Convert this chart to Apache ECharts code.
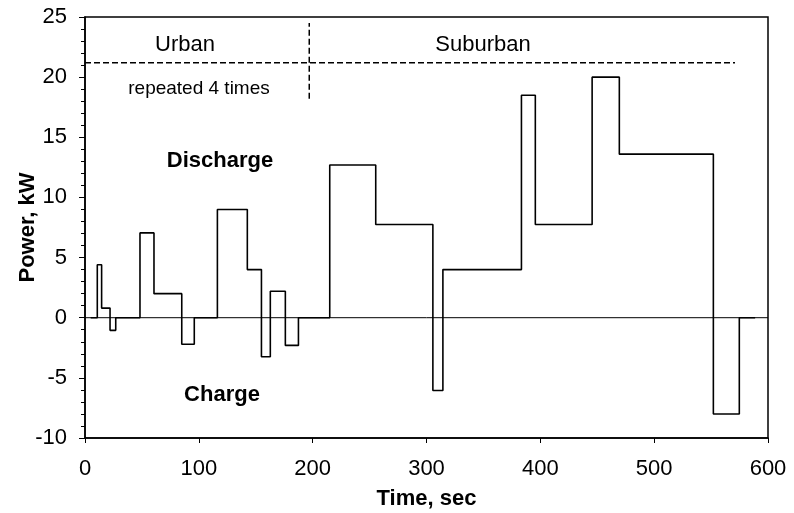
<!DOCTYPE html>
<html>
<head>
<meta charset="utf-8">
<script src="https://cdn.jsdelivr.net/npm/echarts@6/dist/echarts.min.js"></script>
<style>
html,body{margin:0;padding:0;background:#fff;}
#chart{width:794px;height:513px;}
</style>
</head>
<body>
<div id="chart"></div>
<script>
// Step profile: power holds from each time until the next one
var timeSec = [5, 10.8, 14.6, 22, 27, 48.3, 60.6, 85, 96, 116.3, 142.6, 155, 162.8, 176, 187.5, 215, 255.4, 305.6, 314.4, 383.4, 395.6, 445.5, 469.4, 552, 574.8, 588.7];
var powerKW = [0, 4.4, 0.8, -1.05, 0, 7.05, 2.0, -2.2, 0, 9.0, 4.0, -3.25, 2.2, -2.3, 0, 12.7, 7.75, -6.05, 4.0, 18.5, 7.75, 20.0, 13.6, -8.0, 0, 0];

// Annotation lines
var phaseLineY = 21.2;
var phaseLineX = [0, 571];
var dividerX = 197;
var dividerY = [18.2, 24.5];

var xTicks = [0, 100, 200, 300, 400, 500, 600];
var yTicks = [-10, -5, 0, 5, 10, 15, 20, 25];

var profile = timeSec.map(function (t, i) { return [t, powerKW[i]]; });

var FONT = 'Liberation Sans, Arial, sans-serif';
var chart = echarts.init(document.getElementById('chart'), null, {renderer: 'canvas'});

chart.setOption({
  animation: false,
  backgroundColor: '#fff',
  grid: {left: 85, right: 26, top: 17, bottom: 75, containLabel: false, outerBoundsMode: 'none',
         show: true, borderColor: '#000', borderWidth: 1.5, backgroundColor: 'transparent'},
  xAxis: {
    type: 'value', min: xTicks[0], max: xTicks[xTicks.length - 1], interval: 100,
    name: 'Time, sec', nameLocation: 'middle', nameGap: 50,
    nameTextStyle: {fontFamily: FONT, fontSize: 22, fontWeight: 'bold', color: '#000'},
    axisLine: {onZero: false, lineStyle: {color: '#000', width: 1.5}},
    axisTick: {show: true, inside: false, length: 5, lineStyle: {color: '#000'}},
    axisLabel: {fontFamily: FONT, fontSize: 22, color: '#000', margin: 20},
    splitLine: {show: false}
  },
  yAxis: {
    type: 'value', min: yTicks[0], max: yTicks[yTicks.length - 1], interval: 5,
    name: 'Power, kW', nameLocation: 'middle', nameGap: 46, nameRotate: 90, nameMoveOverlap: false,
    nameTextStyle: {fontFamily: FONT, fontSize: 22, fontWeight: 'bold', color: '#000'},
    axisLine: {onZero: false, lineStyle: {color: '#000', width: 1.5}},
    axisTick: {show: true, inside: false, length: 6, lineStyle: {color: '#000'}},
    minorTick: {show: true, splitNumber: 5, length: 4, lineStyle: {color: '#000'}},
    axisLabel: {fontFamily: FONT, fontSize: 22, color: '#000', margin: 18},
    splitLine: {show: false}
  },
  series: [
    {
      type: 'line', data: [[xTicks[0], 0], [xTicks[xTicks.length - 1], 0]],
      showSymbol: false, silent: true,
      lineStyle: {color: '#000', width: 1}, z: 1
    },
    {
      type: 'line', step: 'end', data: profile, showSymbol: false,
      lineStyle: {color: '#000', width: 1.6}, z: 3
    },
    {
      type: 'line', data: [[phaseLineX[0], phaseLineY], [phaseLineX[1], phaseLineY]],
      showSymbol: false, silent: true,
      lineStyle: {color: '#000', width: 1.5, type: [6, 3]}, z: 2
    },
    {
      type: 'line', data: [[dividerX, dividerY[0]], [dividerX, dividerY[1]]],
      showSymbol: false, silent: true,
      lineStyle: {color: '#000', width: 1.5, type: [6, 3]}, z: 2
    }
  ],
  graphic: [
    {type: 'text', x: 185, y: 45, style: {text: 'Urban', font: '22px ' + FONT, fill: '#000', textAlign: 'center', textVerticalAlign: 'middle'}},
    {type: 'text', x: 483, y: 45, style: {text: 'Suburban', font: '22px ' + FONT, fill: '#000', textAlign: 'center', textVerticalAlign: 'middle'}},
    {type: 'text', x: 199, y: 89, style: {text: 'repeated 4 times', font: '19px ' + FONT, fill: '#000', textAlign: 'center', textVerticalAlign: 'middle'}},
    {type: 'text', x: 220, y: 161, style: {text: 'Discharge', font: 'bold 22px ' + FONT, fill: '#000', textAlign: 'center', textVerticalAlign: 'middle'}},
    {type: 'text', x: 222, y: 395, style: {text: 'Charge', font: 'bold 22px ' + FONT, fill: '#000', textAlign: 'center', textVerticalAlign: 'middle'}}
  ]
});
</script>
</body>
</html>
